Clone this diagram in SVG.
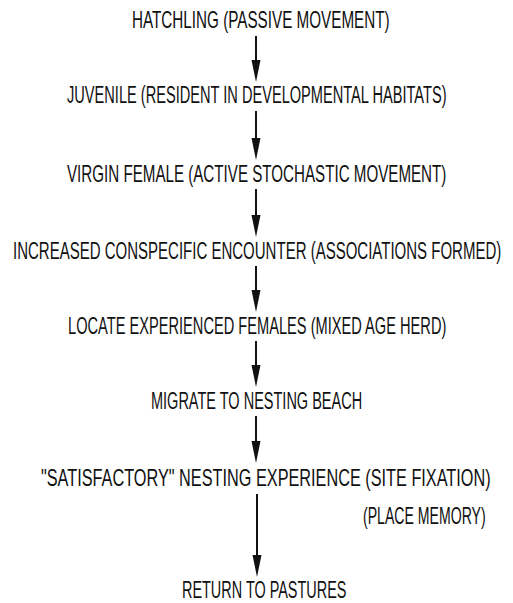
<svg xmlns="http://www.w3.org/2000/svg" width="513" height="603" viewBox="0 0 513 603">
  <style>
    /* condensed stencil-like lettering: regular sans squeezed horizontally per line */
    text { font-family: "Liberation Sans", Arial, sans-serif; font-size: 23px; fill: #111; }
    .conn line { stroke: #111; stroke-width: 2; }
    .conn path { fill: #111; }
  </style>
  <rect width="513" height="603" fill="#fff"/>

  <g id="hatchling"><text transform="translate(132,28) scale(0.663,1)">HATCHLING (PASSIVE MOVEMENT)</text></g>
  <g id="juvenile"><text transform="translate(67,103) scale(0.635,1)">JUVENILE (RESIDENT IN DEVELOPMENTAL HABITATS)</text></g>
  <g id="virgin-female"><text transform="translate(67,182) scale(0.659,1)">VIRGIN FEMALE (ACTIVE STOCHASTIC MOVEMENT)</text></g>
  <g id="encounter"><text transform="translate(13,259) scale(0.653,1)">INCREASED CONSPECIFIC ENCOUNTER (ASSOCIATIONS FORMED)</text></g>
  <g id="locate"><text transform="translate(68,334) scale(0.636,1)">LOCATE EXPERIENCED FEMALES (MIXED AGE HERD)</text></g>
  <g id="migrate"><text transform="translate(151,409) scale(0.631,1)">MIGRATE TO NESTING BEACH</text></g>
  <g id="nesting">
    <text transform="translate(41,486) scale(0.708,1)">"SATISFACTORY" NESTING EXPERIENCE (SITE FIXATION)</text>
    <text transform="translate(363,524) scale(0.613,1)">(PLACE MEMORY)</text>
  </g>
  <g id="return"><text transform="translate(182,598) scale(0.628,1)">RETURN TO PASTURES</text></g>

  <g class="conn" id="connectors">
    <g id="a1"><line x1="256" y1="36" x2="256" y2="62"/><path d="M251.5,60 L260.5,60 L256,82 Z"/></g>
    <g id="a2"><line x1="256" y1="111" x2="256" y2="140"/><path d="M251.5,138 L260.5,138 L256,160 Z"/></g>
    <g id="a3"><line x1="256" y1="189" x2="256" y2="217"/><path d="M251.5,215 L260.5,215 L256,237 Z"/></g>
    <g id="a4"><line x1="256" y1="266" x2="256" y2="292"/><path d="M251.5,290 L260.5,290 L256,312 Z"/></g>
    <g id="a5"><line x1="256" y1="341" x2="256" y2="367"/><path d="M251.5,365 L260.5,365 L256,387 Z"/></g>
    <g id="a6"><line x1="256" y1="416" x2="256" y2="443"/><path d="M251.5,441 L260.5,441 L256,463 Z"/></g>
    <g id="a7"><line x1="257" y1="494" x2="257" y2="557"/><path d="M252.5,555 L261.5,555 L257,577 Z"/></g>
  </g>
</svg>
